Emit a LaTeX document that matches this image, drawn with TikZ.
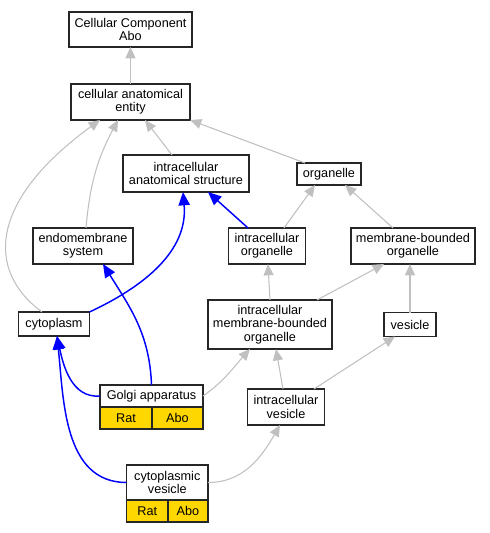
\documentclass[tikz,border=0pt]{standalone}
\usepackage{fontspec}
\setmainfont{Liberation Sans}
\usetikzlibrary{arrows.meta}
\definecolor{isagray}{RGB}{192,192,192}
\definecolor{taxgold}{RGB}{255,215,0}
\tikzset{
  term/.style={rectangle, draw=black!85, line width=1pt, fill=white, align=center, inner sep=1pt, outer sep=0pt, font=\fontsize{9.5}{10}\selectfont},
  taxon/.style={term, fill=taxgold},
  dims/.style 2 args={minimum width=#1*0.75pt, minimum height=#2*0.75pt},
  isa/.style={draw=isagray, line width=0.8pt, -{Triangle[length=8.5pt,width=7.5pt]}},
  partof/.style={draw=blue, line width=1.1pt, -{Triangle[length=10pt,width=8.5pt]}},
}

\begin{document}
\begin{tikzpicture}[x=0.75pt, y=0.75pt]
  \useasboundingbox (0,0) rectangle (490,-533);
  % terms
  \node (cca) [term, dims={123}{35}] at (130.5,-29.5) {Cellular Component\\Abo};
  \node (cae) [term, dims={119}{36}] at (130.5,-102) {cellular anatomical\\entity};
  \node (ias) [term, dims={126}{37}] at (186,-173.5) {intracellular\\anatomical structure};
  \node (org) [term, dims={64}{22}] at (329,-174) {organelle};
  \node (ems) [term, dims={100}{36}] at (83,-246) {endomembrane\\system};
  \node (io) [term, dims={77}{36}] at (267,-246) {intracellular\\organelle};
  \node (mbo) [term, dims={124}{36}] at (413,-246) {membrane-bounded\\organelle};
  \node (cyto) [term, dims={71}{24}] at (54,-324) {cytoplasm};
  \node (imbo) [term, dims={124}{49}] at (270,-324.5) {intracellular\\membrane-bounded\\organelle};
  \node (ves) [term, dims={52}{24}] at (410,-324.5) {vesicle};
  \node (iv) [term, dims={77}{36}] at (286,-407) {intracellular\\vesicle};
  % annotated terms
  \node (golgi) [term, dims={103}{22}] at (151.5,-396) {Golgi apparatus};
  \node (golgirat) [taxon, dims={52}{22}] at (126,-418) {Rat};
  \node (golgiabo) [taxon, dims={51}{22}] at (177.5,-418) {Abo};
  \node (cv) [term, dims={81.3}{35}] at (167.3,-482.5) {cytoplasmic\\vesicle};
  \node (cvrat) [taxon, dims={41.3}{22}] at (147.3,-511) {Rat};
  \node (cvabo) [taxon, dims={40}{22}] at (188,-511) {Abo};

  % is_a
  \draw [isa] (cae) -- (cca);
  \draw [isa] ([shift={(-14,0)}]ias.north) -- ([shift={(14.5,0)}]cae.south);
  \draw [isa] ([shift={(-24,0)}]org.north) -- (cae.south east);
  \draw [isa] ([shift={(3,0)}]ems.north) to[out=85,in=-118] ([shift={(-12.5,0)}]cae.south);
  \draw [isa] ([shift={(-12,0)}]cyto.north) .. controls +(-57,42) and +(-110,-80) .. ([shift={(-30.5,0)}]cae.south);
  \draw [isa] ([shift={(17,0)}]io.north) -- ([shift={(-14,0)}]org.south);
  \draw [isa] ([shift={(-20,0)}]mbo.north) -- ([shift={(16,0)}]org.south);
  \draw [isa] (imbo.north) -- ([shift={(1,0)}]io.south);
  \draw [isa] ([shift={(47,0)}]imbo.north) -- ([shift={(-29,0)}]mbo.south);
  \draw [isa] (ves.north) -- ([shift={(-3,0)}]mbo.south);
  \draw [isa] (golgi.east) to[out=35,in=-132] ([shift={(-20,0)}]imbo.south);
  \draw [isa] ([shift={(-3,0)}]iv.north) -- ([shift={(6,0)}]imbo.south);
  \draw [isa] ([shift={(28,0)}]iv.north) -- ([shift={(-15,0)}]ves.south);
  \draw [isa] (cv.east) to[out=0,in=-120] ([shift={(-6,0)}]iv.south);

  % part_of
  \draw [partof] ([shift={(-19,0)}]io.north) -- ([shift={(22,0)}]ias.south);
  \draw [partof] (cyto.north east) to[out=25,in=-85] ([shift={(-3,0)}]ias.south);
  \draw [partof] (golgi.north) to[out=92,in=-58] ([shift={(20,0)}]ems.south);
  \draw [partof] (golgi.west) to[out=185,in=-78] ([shift={(3,0)}]cyto.south);
  \draw [partof] (cv.west) to[out=180,in=-84] ([shift={(3,0)}]cyto.south);
\end{tikzpicture}
\end{document}
